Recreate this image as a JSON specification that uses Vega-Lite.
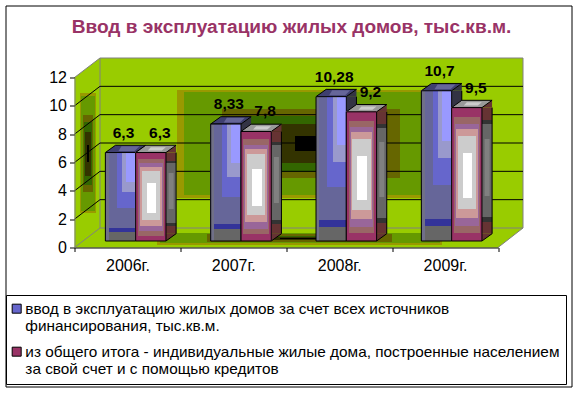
{
"$schema":"https://vega.github.io/schema/vega-lite/v6.json",
"width":566,"height":381,
"autosize":{"type":"none"},
"padding":{"left":5.5,"top":5.5,"right":5.5,"bottom":8.5},
"background":"white",
"view":{"stroke":"black","strokeWidth":1,"fill":"white"},
"title":{"text":"Ввод в эксплуатацию жилых домов, тыс.кв.м.","font":"Liberation Sans","fontSize":19.1,"fontWeight":"bold","color":"#993366","anchor":"middle","dx":3,"offset":-32},
"datasets":{
"rows":[
{"year":"2006г.","series":"ввод в эксплуатацию жилых домов за счет всех источников финансирования, тыс.кв.м.","group":"total","value":6.3,"label":"6,3"},
{"year":"2007г.","series":"ввод в эксплуатацию жилых домов за счет всех источников финансирования, тыс.кв.м.","group":"total","value":8.33,"label":"8,33"},
{"year":"2008г.","series":"ввод в эксплуатацию жилых домов за счет всех источников финансирования, тыс.кв.м.","group":"total","value":10.28,"label":"10,28"},
{"year":"2009г.","series":"ввод в эксплуатацию жилых домов за счет всех источников финансирования, тыс.кв.м.","group":"total","value":10.7,"label":"10,7"},
{"year":"2006г.","series":"из общего итога - индивидуальные жилые дома, построенные населением за свой счет и с помощью кредитов","group":"own","value":6.3,"label":"6,3"},
{"year":"2007г.","series":"из общего итога - индивидуальные жилые дома, построенные населением за свой счет и с помощью кредитов","group":"own","value":7.8,"label":"7,8"},
{"year":"2008г.","series":"из общего итога - индивидуальные жилые дома, построенные населением за свой счет и с помощью кредитов","group":"own","value":9.2,"label":"9,2"},
{"year":"2009г.","series":"из общего итога - индивидуальные жилые дома, построенные населением за свой счет и с помощью кредитов","group":"own","value":9.5,"label":"9,5"}
],
"anchor":[{"year":"2006г.","v":0}],
"grid":[{"year":"2006г.","v":2},{"year":"2006г.","v":4},{"year":"2006г.","v":6},{"year":"2006г.","v":8},{"year":"2006г.","v":10}]
},
"layer":[
{
"data":{"name":"anchor"},
"encoding":{
"x":{"field":"year","type":"nominal","bandPosition":0,"title":null,"scale":{"type":"band","domain":["2006г.","2007г.","2008г.","2009г."],"range":[69,492.5],"paddingInner":0,"paddingOuter":0},
"axis":{"orient":"bottom","offset":-139,"labelAngle":0,"tickBand":"extent","domainColor":"black","tickColor":"black","tickSize":4,"labelColor":"black","labelFont":"Liberation Sans","labelFontSize":16,"labelPadding":6,"zindex":1,"grid":false}},
"y":{"field":"v","type":"quantitative","title":null,"scale":{"domain":[0,12],"range":[242,72]},
"axis":{"orient":"left","offset":-69,"values":[0,2,4,6,8,10,12],"domainColor":"#808080","tickColor":"black","tickSize":5,"labelColor":"black","labelFont":"Liberation Sans","labelFontSize":16,"labelPadding":3,"zindex":1,"grid":false}}
},
"layer":[
{"mark":{"type":"point","filled":true,"opacity":1,"size":4,"fill":"#99CC00","shape":"M0,0V-170L25.5,-189.5H448.5V-19.5L423.5,0Z"}},
{"mark":{"type":"point","filled":true,"opacity":1,"size":4,"fill":"#999900","shape":"M102.5,-157.5H371.5V-49.5H102.5ZM5.5,-154.5H21.5V-34.5H5.5ZM82.5,-14.5H367.5V-2.5H82.5Z"}},
{"mark":{"type":"point","filled":true,"opacity":1,"size":4,"fill":"#669900","shape":"M109.5,-155.5H364.5V-52.5H109.5ZM6.5,-151.5H20.5V-36.5H6.5ZM85.5,-14.5H365.5V-4.5H85.5Z"}},
{"mark":{"type":"point","filled":true,"opacity":1,"size":4,"fill":"#666600","shape":"M147.5,-138.5H325.5V-69.5H147.5ZM8.5,-132.5H18.5V-55.5H8.5ZM132.5,-13.5H317.5V-5.5H132.5Z"}},
{"mark":{"type":"point","filled":true,"opacity":1,"size":4,"fill":"#336600","shape":"M176.5,-131.5H297.5V-75.5H176.5ZM9.5,-125.5H17.5V-62.5H9.5ZM185.5,-11.5H260V-7.5H185.5Z"}},
{"mark":{"type":"point","filled":true,"opacity":1,"size":4,"fill":"#333300","shape":"M190.5,-123.5H283.5V-84.5H190.5ZM10.5,-115.5H16.5V-71.5H10.5ZM200,-10.5H255V-7.5H200Z"}},
{"mark":{"type":"point","filled":true,"opacity":1,"size":4,"fill":"#000000","shape":"M220.5,-111.5H253.5V-96.5H220.5ZM12.5,-102.5H14.5V-85.5H12.5ZM205.5,-9.5H241.5V-8.5H205.5Z"}},
{"mark":{"type":"point","filled":false,"opacity":1,"size":4,"stroke":"#808080","strokeWidth":1,"shape":"M0,-170L25.5,-189.5H448.5V-19.5L423.5,0M25.5,-189.5V-19.5H448.5M0,0L25.5,-19.5"}},
{"data":{"name":"grid"},"mark":{"type":"point","filled":false,"opacity":1,"size":4,"stroke":"black","strokeWidth":1,"shape":"M0,0L25.5,-19.5H448.5"}}
]
},
{
"data":{"name":"rows"},
"encoding":{
"x":{"field":"year","type":"nominal","title":null,"axis":null,"scale":{"type":"band","domain":["2006г.","2007г.","2008г.","2009г."],"range":[97.8,519.1],"paddingInner":0.4247,"paddingOuter":0.2123}},
"xOffset":{"field":"series","type":"nominal"},
"y":{"field":"value","type":"quantitative","title":null,"axis":null,"stack":null,"scale":{"domain":[0,12],"range":[235.5,67]}},
"y2":{"datum":0}
},
"layer":[
{"transform":[{"filter":"datum.group=='total'"}],"mark":{"type":"bar","size":10.3,"y2Offset":-7.3,"fill":"#333344"}},
{"transform":[{"filter":"datum.group=='own'"}],"mark":{"type":"bar","size":10.3,"y2Offset":-7.3,"fill":{"gradient":"linear","x1":0,"y1":0,"x2":0,"y2":1,"stops":[{"offset":0,"color":"#663333"},{"offset":0.1,"color":"#663333"},{"offset":0.1,"color":"#333333"},{"offset":0.13,"color":"#333333"},{"offset":0.13,"color":"#666666"},{"offset":0.87,"color":"#666666"},{"offset":0.87,"color":"#333333"},{"offset":0.91,"color":"#333333"},{"offset":0.91,"color":"#663333"},{"offset":1,"color":"#663333"}]}}},
{"transform":[{"filter":"datum.group=='own'"}],"mark":{"type":"bar","size":5,"y2Offset":-7.3,"fill":{"gradient":"linear","x1":0,"y1":0,"x2":0,"y2":1,"stops":[{"offset":0,"color":"transparent"},{"offset":0.25,"color":"transparent"},{"offset":0.25,"color":"#808080"},{"offset":0.7,"color":"#808080"},{"offset":0.7,"color":"transparent"},{"offset":1,"color":"transparent"}]}}}
]
},
{
"data":{"name":"rows"},
"encoding":{
"x":{"field":"year","type":"nominal","title":null,"axis":null,"scale":{"type":"band","domain":["2006г.","2007г.","2008г.","2009г."],"range":[102.8,524.1],"paddingInner":0.4247,"paddingOuter":0.2123}},
"xOffset":{"field":"series","type":"nominal"},
"y":{"field":"value","type":"quantitative","title":null,"axis":null,"stack":null,"scale":{"domain":[0,12],"range":[235.5,67]}},
"y2":{"datum":0}
},
"mark":{"type":"rule","y2Offset":-7.3,"stroke":"black","strokeWidth":1}
},
{
"data":{"name":"rows"},
"encoding":{
"x":{"field":"year","type":"nominal","title":null,"axis":null,"scale":{"type":"band","domain":["2006г.","2007г.","2008г.","2009г."],"range":[77.5,498.8],"paddingInner":0.4247,"paddingOuter":0.2123}},
"xOffset":{"field":"series","type":"nominal"},
"y":{"field":"value","type":"quantitative","title":null,"axis":null,"stack":null,"scale":{"domain":[0,12],"range":[235.5,67]}}
},
"layer":[
{"layer":[
{"mark":{"type":"point","filled":true,"opacity":1,"size":4,"fill":"#333344","shape":"M15.15,0L25.3,-7.3V0Z"}},
{"mark":{"type":"point","filled":true,"opacity":1,"size":4,"fill":"#3F3F70","stroke":"black","strokeWidth":1,"shape":"M-15.15,0L-5,-7.3H25.3L15.15,0Z"}},
{"mark":{"type":"point","filled":true,"opacity":1,"size":4,"fill":"#666699","shape":"M-2,-1.5L1,-6.3H19L14,-1.5Z"}}
],"transform":[{"filter":"datum.group=='total'"}]},
{"mark":{"type":"bar"},
"encoding":{"color":{"field":"series","type":"nominal","scale":{"range":["#6666CC","#993366"]},
"legend":{"orient":"none","legendX":0.5,"legendY":289.5,"title":null,"fillColor":"white","strokeColor":"black","padding":6,"symbolType":"square","symbolSize":81,"symbolOffset":-3,"symbolStrokeColor":"black","symbolStrokeWidth":1,"symbolOpacity":1,"labelFont":"Liberation Sans","labelFontSize":15.35,"labelColor":"black","labelLimit":0,"rowPadding":9,"labelOffset":1,"symbolBaseline":"top",
"encoding":{"labels":{"update":{"lineHeight":{"value":18}}}},
"labelExpr":"indexof(datum.label,'ввод')==0 ? ['ввод в эксплуатацию жилых домов за счет всех источников','финансирования, тыс.кв.м.'] : ['из общего итога - индивидуальные жилые дома, построенные населением','за свой счет и с помощью кредитов']"}}}},
{"layer":[
{"mark":{"type":"bar","fill":"#9999FF"}},
{"mark":{"type":"bar","fill":{"gradient":"linear","x1":0,"y1":0,"x2":1,"y2":0,"stops":[{"offset":0,"color":"#9999CC"},{"offset":0.68,"color":"#9999CC"},{"offset":0.68,"color":"transparent"},{"offset":1,"color":"transparent"}]}}},
{"mark":{"type":"bar","fill":{"gradient":"linear","x1":0,"y1":0,"x2":0,"y2":1,"stops":[{"offset":0,"color":"transparent"},{"offset":0.336,"color":"transparent"},{"offset":0.336,"color":"#9999CC"},{"offset":1,"color":"#9999CC"}]}}},
{"mark":{"type":"bar","fill":{"gradient":"linear","x1":0,"y1":0,"x2":1,"y2":0,"stops":[{"offset":0,"color":"#6666CC"},{"offset":0.545,"color":"#6666CC"},{"offset":0.545,"color":"transparent"},{"offset":1,"color":"transparent"}]}}},
{"mark":{"type":"bar","fill":{"gradient":"linear","x1":0,"y1":0,"x2":0,"y2":1,"stops":[{"offset":0,"color":"transparent"},{"offset":0.45,"color":"transparent"},{"offset":0.45,"color":"#6666CC"},{"offset":1,"color":"#6666CC"}]}}},
{"mark":{"type":"bar","fill":{"gradient":"linear","x1":0,"y1":0,"x2":1,"y2":0,"stops":[{"offset":0,"color":"#666699"},{"offset":0.375,"color":"#666699"},{"offset":0.375,"color":"transparent"},{"offset":1,"color":"transparent"}]}}},
{"mark":{"type":"bar","fill":{"gradient":"linear","x1":0,"y1":0,"x2":0,"y2":1,"stops":[{"offset":0,"color":"transparent"},{"offset":0.627,"color":"transparent"},{"offset":0.627,"color":"#666699"},{"offset":0.855,"color":"#666699"},{"offset":0.855,"color":"#333399"},{"offset":0.9,"color":"#333399"},{"offset":0.9,"color":"#666666"},{"offset":1,"color":"#666666"}]}}},
{"mark":{"type":"bar","fill":{"gradient":"linear","x1":0,"y1":0,"x2":1,"y2":0,"stops":[{"offset":0,"color":"#707088"},{"offset":0.11,"color":"#707088"},{"offset":0.11,"color":"transparent"},{"offset":1,"color":"transparent"}]}}},
{"mark":{"type":"bar","fillOpacity":0,"stroke":"black","strokeWidth":1}}
],"transform":[{"filter":"datum.group=='total'"}]},
{"layer":[
{"mark":{"type":"point","filled":true,"opacity":1,"size":4,"fill":"#663333","shape":"M15.15,0L25.3,-7.3V0Z"}},
{"mark":{"type":"point","filled":true,"opacity":1,"size":4,"fill":"#663333","shape":"M15.15,0L25.3,-7.3H15.15Z"},"encoding":{"y":{"datum":0}}},
{"mark":{"type":"point","filled":false,"opacity":1,"size":4,"stroke":"black","strokeWidth":1,"shape":"M15.15,0L25.3,-7.3"},"encoding":{"y":{"datum":0}}},
{"mark":{"type":"point","filled":true,"opacity":1,"size":4,"fill":"#999999","stroke":"black","strokeWidth":1,"shape":"M-15.15,0L-5,-7.3H25.3L15.15,0Z"}},
{"mark":{"type":"point","filled":true,"opacity":1,"size":4,"fill":"#CCCCCC","shape":"M-3,-2L0,-5.3H15L11,-2Z"}},
{"mark":{"type":"bar","fill":"white"}},
{"mark":{"type":"bar","fill":{"gradient":"linear","x1":0,"y1":0,"x2":1,"y2":0,"stops":[{"offset":0,"color":"#CCCCCC"},{"offset":0.36,"color":"#CCCCCC"},{"offset":0.36,"color":"transparent"},{"offset":0.68,"color":"transparent"},{"offset":0.68,"color":"#CCCCCC"},{"offset":1,"color":"#CCCCCC"}]}}},
{"mark":{"type":"bar","fill":{"gradient":"linear","x1":0,"y1":0,"x2":0,"y2":1,"stops":[{"offset":0,"color":"#CCCCCC"},{"offset":0.34,"color":"#CCCCCC"},{"offset":0.34,"color":"transparent"},{"offset":0.68,"color":"transparent"},{"offset":0.68,"color":"#CCCCCC"},{"offset":1,"color":"#CCCCCC"}]}}},
{"mark":{"type":"bar","fill":{"gradient":"linear","x1":0,"y1":0,"x2":1,"y2":0,"stops":[{"offset":0,"color":"#CC9999"},{"offset":0.2,"color":"#CC9999"},{"offset":0.2,"color":"transparent"},{"offset":0.8,"color":"transparent"},{"offset":0.8,"color":"#CC9999"},{"offset":1,"color":"#CC9999"}]}}},
{"mark":{"type":"bar","fill":{"gradient":"linear","x1":0,"y1":0,"x2":0,"y2":1,"stops":[{"offset":0,"color":"#CC9999"},{"offset":0.21,"color":"#CC9999"},{"offset":0.21,"color":"transparent"},{"offset":0.76,"color":"transparent"},{"offset":0.76,"color":"#CC9999"},{"offset":1,"color":"#CC9999"}]}}},
{"mark":{"type":"bar","fill":{"gradient":"linear","x1":0,"y1":0,"x2":1,"y2":0,"stops":[{"offset":0,"color":"#996699"},{"offset":0.14,"color":"#996699"},{"offset":0.14,"color":"transparent"},{"offset":0.86,"color":"transparent"},{"offset":0.86,"color":"#996699"},{"offset":1,"color":"#996699"}]}}},
{"mark":{"type":"bar","fill":{"gradient":"linear","x1":0,"y1":0,"x2":0,"y2":1,"stops":[{"offset":0,"color":"#996699"},{"offset":0.16,"color":"#996699"},{"offset":0.16,"color":"transparent"},{"offset":0.83,"color":"transparent"},{"offset":0.83,"color":"#996699"},{"offset":1,"color":"#996699"}]}}},
{"mark":{"type":"bar","fill":{"gradient":"linear","x1":0,"y1":0,"x2":1,"y2":0,"stops":[{"offset":0,"color":"#996666"},{"offset":0.11,"color":"#996666"},{"offset":0.11,"color":"transparent"},{"offset":0.89,"color":"transparent"},{"offset":0.89,"color":"#996666"},{"offset":1,"color":"#996666"}]}}},
{"mark":{"type":"bar","fill":{"gradient":"linear","x1":0,"y1":0,"x2":0,"y2":1,"stops":[{"offset":0,"color":"#996666"},{"offset":0.12,"color":"#996666"},{"offset":0.12,"color":"transparent"},{"offset":0.89,"color":"transparent"},{"offset":0.89,"color":"#996666"},{"offset":1,"color":"#996666"}]}}},
{"mark":{"type":"bar","fill":{"gradient":"linear","x1":0,"y1":0,"x2":1,"y2":0,"stops":[{"offset":0,"color":"#993366"},{"offset":0.08,"color":"#993366"},{"offset":0.08,"color":"transparent"},{"offset":0.92,"color":"transparent"},{"offset":0.92,"color":"#993366"},{"offset":1,"color":"#993366"}]}}},
{"mark":{"type":"bar","fill":{"gradient":"linear","x1":0,"y1":0,"x2":0,"y2":1,"stops":[{"offset":0,"color":"#993366"},{"offset":0.07,"color":"#993366"},{"offset":0.07,"color":"transparent"},{"offset":0.94,"color":"transparent"},{"offset":0.94,"color":"#993366"},{"offset":1,"color":"#993366"}]}}},
{"mark":{"type":"bar","fillOpacity":0,"stroke":"black","strokeWidth":1}}
],"transform":[{"filter":"datum.group=='own'"}]},
{"transform":[{"filter":"datum.group=='total'"}],"mark":{"type":"text","font":"Liberation Sans","fontSize":15.5,"fontWeight":"bold","color":"black","dx":3,"dy":-20},"encoding":{"text":{"field":"label"}}},
{"transform":[{"filter":"datum.group=='own'"}],"mark":{"type":"text","font":"Liberation Sans","fontSize":15.5,"fontWeight":"bold","color":"black","dx":9,"dy":-20},"encoding":{"text":{"field":"label"}}}
]
}
],
"resolve":{"scale":{"x":"independent","y":"independent","xOffset":"independent"}}
}
